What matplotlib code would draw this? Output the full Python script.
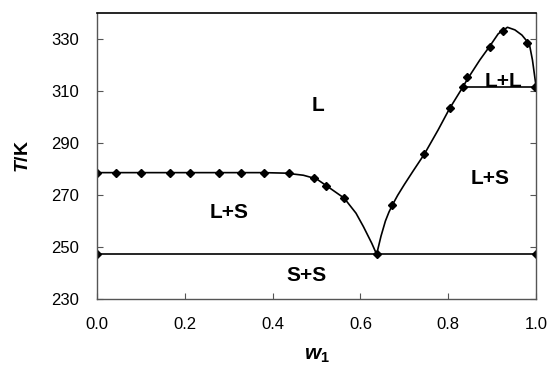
import matplotlib
matplotlib.use("Agg")
import matplotlib.pyplot as plt

plt.rcParams["font.family"] = ["Liberation Sans Narrow", "Liberation Sans", "DejaVu Sans"]
plt.rcParams["mathtext.fontset"] = "custom"
plt.rcParams["mathtext.it"] = "Liberation Sans:italic:bold"
plt.rcParams["mathtext.rm"] = "Liberation Sans:bold"
plt.rcParams["mathtext.bf"] = "Liberation Sans:bold"

# experimental points (w1, T/K)
w_liq_left = [0.0, 0.044, 0.100, 0.167, 0.212, 0.277, 0.328, 0.380, 0.438, 0.495, 0.521, 0.563]
T_liq_left = [278.6, 278.6, 278.6, 278.6, 278.6, 278.6, 278.6, 278.6, 278.5, 276.4, 273.5, 268.8]
w_eut, T_eut = 0.637, 247.2
w_liq_right = [0.673, 0.746, 0.803, 0.833, 0.844, 0.896, 0.926, 0.980, 0.998]
T_liq_right = [266.2, 285.8, 303.6, 311.4, 315.3, 327.0, 333.2, 328.6, 311.4]
w_eut_line = [0.0, 1.0]
w_mono_line = [0.833, 1.0]
T_mono = 311.4

# smoothed phase boundaries
w_fit_left = [0.0, 0.1, 0.2, 0.3, 0.38, 0.43, 0.47, 0.50, 0.53, 0.563, 0.59, 0.607, 0.626, 0.637]
T_fit_left = [278.6, 278.6, 278.6, 278.6, 278.6, 278.4, 277.6, 276.2, 272.7, 268.8, 263.0, 257.8, 251.4, 247.2]
w_fit_right = [0.637, 0.647, 0.657, 0.665, 0.673, 0.685, 0.700, 0.720, 0.746, 0.777, 0.803, 0.833,
               0.844, 0.872, 0.895, 0.914, 0.935, 0.952, 0.968, 0.985, 0.992, 1.0]
T_fit_right = [247.2, 254.2, 260.0, 263.4, 266.2, 269.9, 274.0, 279.2, 285.8, 295.0, 303.2, 311.4,
               314.6, 321.9, 327.3, 332.0, 334.5, 333.5, 331.5, 328.0, 321.9, 312.0]

regions = ["L", "L+S", "L+S", "L+L", "S+S"]
region_w = [0.503, 0.30, 0.895, 0.926, 0.478]
region_T = [304.6, 263.3, 276.5, 313.6, 239.0]

fig = plt.figure(figsize=(5.5, 3.7), dpi=100)
ax = fig.add_axes([0.1764, 0.1919, 0.7981, 0.773])

lw = 1.2
ax.plot(w_fit_left, T_fit_left, color="black", lw=lw)
ax.plot(w_fit_right, T_fit_right, color="black", lw=lw)
ax.plot(w_eut_line, [T_eut] * 2, color="black", lw=lw)
ax.plot(w_mono_line, [T_mono] * 2, color="black", lw=lw)

mk = dict(ls="none", marker="D", ms=3.6, color="black")
ax.plot(w_liq_left, T_liq_left, **mk)
ax.plot(w_liq_right, T_liq_right, **mk)
ax.plot([w_eut], [T_eut], **mk)
ax.plot(w_eut_line, [T_eut] * 2, **mk)
ax.plot([1.0], [T_mono], **mk)

for txt, x, y in zip(regions, region_w, region_T):
    ax.text(x, y, txt, ha="center", va="center", fontsize=15, fontweight="bold",
            family=["Liberation Sans", "DejaVu Sans"])

ax.set_xlim(0, 1.0)
ax.set_ylim(230, 340)
ax.set_xticks([0.0, 0.2, 0.4, 0.6, 0.8, 1.0])
ax.set_xticklabels(["0.0", "0.2", "0.4", "0.6", "0.8", "1.0"])
ax.set_yticks([230, 250, 270, 290, 310, 330])
ax.tick_params(axis="both", direction="in", length=4, width=0.8, labelsize=12, pad=13,
               color="#555555")
ax.tick_params(axis="y", right=True)

for side in ["left", "bottom", "right"]:
    ax.spines[side].set_color("#555555")
    ax.spines[side].set_linewidth(1.0)
ax.spines["top"].set_color("black")
ax.spines["top"].set_linewidth(1.2)

ax.set_xlabel(r"$w_1$", fontsize=15, labelpad=10)
ax.set_ylabel(r"$T$/K", fontsize=14, fontweight="bold", labelpad=14,
              family=["Liberation Sans", "DejaVu Sans"])

fig.savefig("out.png", dpi=100)
